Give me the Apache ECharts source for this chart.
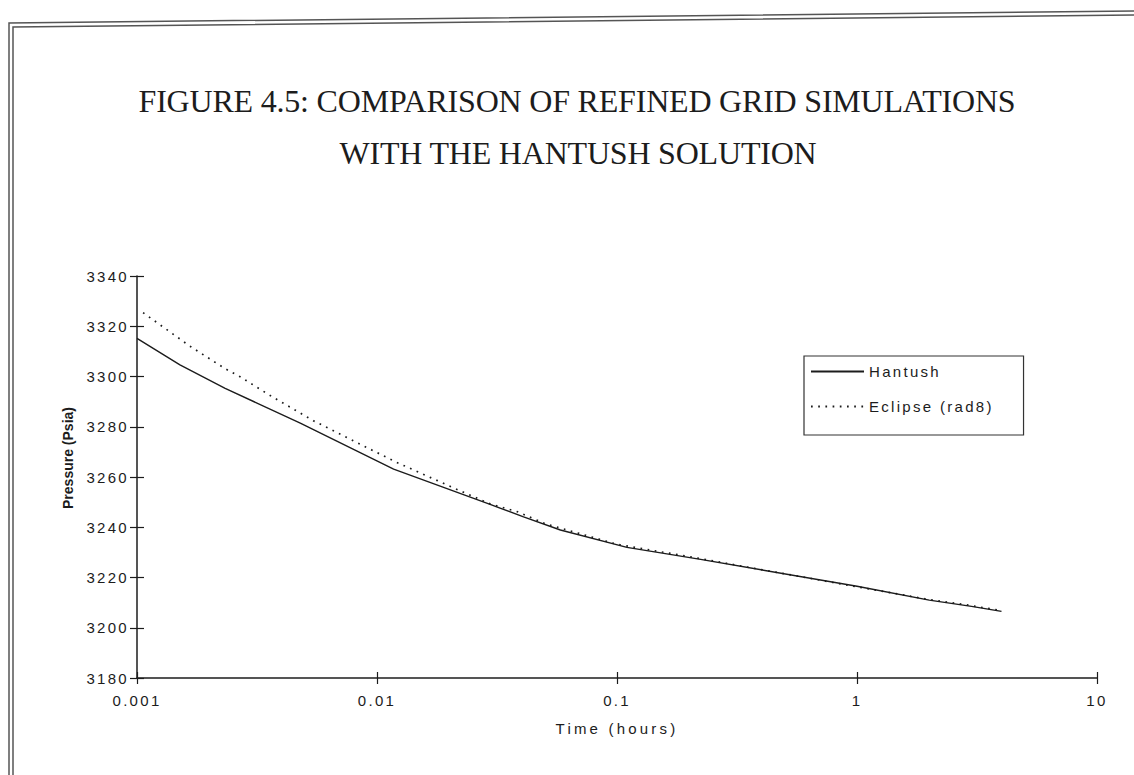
<!DOCTYPE html>
<html>
<head>
<meta charset="utf-8">
<script src="https://cdn.jsdelivr.net/npm/echarts@6/dist/echarts.min.js"></script>
<style>
  html, body { margin: 0; padding: 0; background: #fff; }
  #chart { width: 1134px; height: 775px; }
</style>
</head>
<body>
<div id="chart"></div>
<script>
// ---- data ----
const titleLines = ['FIGURE 4.5: COMPARISON OF REFINED GRID SIMULATIONS', 'WITH THE HANTUSH SOLUTION'];
const seriesNames = ['Hantush', 'Eclipse (rad8)'];
const xAxisName = 'Time (hours)';
const yAxisName = 'Pressure (Psia)';
const xTickLabels = ['0.001', '0.01', '0.1', '1', '10'];
const yTickLabels = ['3180', '3200', '3220', '3240', '3260', '3280', '3300', '3320', '3340'];

const timeHantush = [0.001, 0.00151, 0.00233, 0.00479, 0.01173, 0.0296, 0.0408, 0.0581, 0.110, 0.223, 1, 2, 3, 4];
const pressureHantush = [3315.2, 3304.6, 3295.3, 3281.4, 3263.1, 3249.1, 3244.1, 3238.9, 3232.0, 3227.2, 3216.5, 3211.0, 3208.5, 3206.5];

const timeEclipse = [0.00106, 0.00166, 0.00233, 0.00269, 0.00359, 0.00543, 0.0119, 0.0222, 0.0296, 0.0384, 0.05, 0.1, 0.2, 1, 2, 3, 4];
const pressureEclipse = [3325.4, 3312.1, 3303.1, 3299.9, 3292.4, 3282.4, 3266.1, 3254.5, 3249.3, 3246.2, 3241.5, 3233.2, 3228.3, 3216.3, 3211.2, 3208.8, 3206.8];

// ---- chart ----
const ink = '#1c1c1c';
const sans = '"Liberation Sans", Arial, sans-serif';
const serif = '"Liberation Serif", "Times New Roman", serif';
const xMin = +xTickLabels[0], xMax = +xTickLabels[xTickLabels.length - 1];
const yMin = +yTickLabels[0], yMax = +yTickLabels[yTickLabels.length - 1];
const yStep = +yTickLabels[1] - +yTickLabels[0];

const chart = echarts.init(document.getElementById('chart'), null, { renderer: 'svg' });

const grid = { left: 137, right: 37, top: 276, bottom: 97 };

const option = {
  animation: false,
  backgroundColor: '#fff',
  grid: grid,
  graphic: [
    // scanned double frame
    { type: 'polyline', shape: { points: [[9, 775], [9, 23], [1134, 11]] }, style: { stroke: '#555', lineWidth: 1.5, fill: null } },
    { type: 'polyline', shape: { points: [[13, 775], [13, 27], [1134, 15]] }, style: { stroke: '#555', lineWidth: 1.5, fill: null } },
    { type: 'text', x: 577, y: 101, style: { text: titleLines[0], font: '32px ' + serif, fill: ink, textAlign: 'center', textVerticalAlign: 'middle' } },
    { type: 'text', x: 578, y: 153, style: { text: titleLines[1], font: '32px ' + serif, fill: ink, textAlign: 'center', textVerticalAlign: 'middle' } },
    { type: 'text', x: 68, y: 458, rotation: Math.PI / 2, style: { text: yAxisName, font: 'bold 14px ' + sans, fill: ink, textAlign: 'center', textVerticalAlign: 'middle' } }
  ],
  legend: {
    left: 804,
    top: 356,
    orient: 'vertical',
    data: seriesNames,
    itemWidth: 53,
    itemHeight: 14,
    itemGap: 20,
    padding: [8, 62, 21, 6],
    borderColor: '#333',
    borderWidth: 1.2,
    borderRadius: 0,
    backgroundColor: '#fff',
    itemStyle: { opacity: 0 },
    textStyle: { fontFamily: sans, fontSize: 15, color: ink, padding: [0, 0, 0, 0] }
  },
  xAxis: [
    {
      type: 'log', logBase: 10, min: xMin, max: xMax,
      name: xAxisName, nameLocation: 'middle', nameGap: 43,
      nameTextStyle: { fontFamily: sans, fontSize: 15, color: ink },
      axisLine: { show: true, lineStyle: { color: ink, width: 1.5 } },
      axisTick: { show: true, inside: false, length: 6, lineStyle: { color: ink, width: 1.2 } },
      axisLabel: {
        margin: 15, fontFamily: sans, fontSize: 15, color: ink,
        formatter: function (v) {
          let best = xTickLabels[0];
          xTickLabels.forEach(function (s) { if (Math.abs(Math.log10(+s) - Math.log10(v)) < 1e-6) best = s; });
          return best;
        }
      },
      splitLine: { show: false },
      minorTick: { show: false }
    },
    {
      type: 'log', logBase: 10, min: xMin, max: xMax, position: 'bottom',
      axisLine: { show: false },
      axisTick: { show: true, inside: true, length: 6, lineStyle: { color: ink, width: 1.2 } },
      axisLabel: { show: false },
      splitLine: { show: false }
    }
  ],
  yAxis: [
    {
      type: 'value', min: yMin, max: yMax, interval: yStep,
      axisLine: { show: true, lineStyle: { color: ink, width: 1.5 } },
      axisTick: { show: true, inside: false, length: 7, lineStyle: { color: ink, width: 1.2 } },
      axisLabel: {
        margin: 8, fontFamily: sans, fontSize: 15, color: ink,
        formatter: function (v) {
          let best = String(v);
          yTickLabels.forEach(function (s) { if (Math.abs(+s - v) < 1e-6) best = s; });
          return best;
        }
      },
      splitLine: { show: false }
    },
    {
      type: 'value', min: yMin, max: yMax, interval: yStep, position: 'left',
      axisLine: { show: false },
      axisTick: { show: true, inside: true, length: 7, lineStyle: { color: ink, width: 1.2 } },
      axisLabel: { show: false },
      splitLine: { show: false }
    }
  ],
  series: [
    {
      name: seriesNames[0], type: 'line', xAxisIndex: 0, yAxisIndex: 0,
      symbol: 'none', smooth: false,
      lineStyle: { color: ink, width: 1.4, type: 'solid' },
      itemStyle: { color: ink },
      data: timeHantush.map(function (t, i) { return [t, pressureHantush[i]]; })
    },
    {
      name: seriesNames[1], type: 'line', xAxisIndex: 0, yAxisIndex: 0,
      symbol: 'none', smooth: false,
      lineStyle: { color: ink, width: 1.7, type: [1.7, 5.5] },
      itemStyle: { color: ink },
      data: timeEclipse.map(function (t, i) { return [t, pressureEclipse[i]]; })
    }
  ]
};

chart.setOption(option);

function applySpacing() {
  document.querySelectorAll('#chart text').forEach(function (el) {
    const s = el.textContent;
    if (s === titleLines[0] || s === titleLines[1]) el.style.letterSpacing = '-0.2px';
    else if (s === xAxisName) el.style.letterSpacing = '3.2px';
    else if (s === yAxisName) el.style.letterSpacing = '0px';
    else el.style.letterSpacing = '2.3px';
  });
}
chart.on('finished', applySpacing);
applySpacing();
setTimeout(applySpacing, 50);
setTimeout(applySpacing, 300);
</script>
</body>
</html>
